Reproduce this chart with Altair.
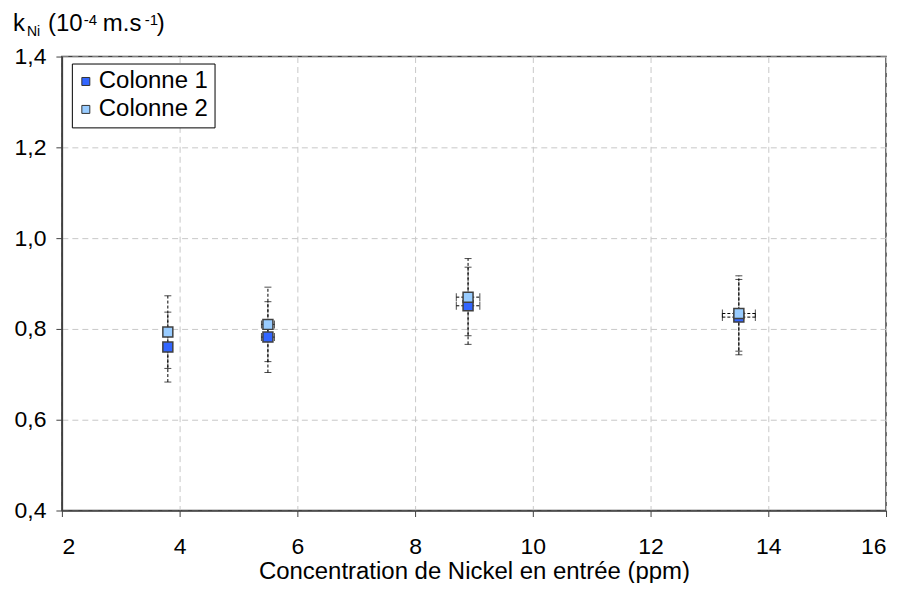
import altair as alt
import pandas as pd

# ---- data ----
series = ["Colonne 1", "Colonne 2"]
conc = [3.8, 5.5, 8.9, 13.5]
k_col1 = [0.760, 0.782, 0.851, 0.826]
k_col2 = [0.793, 0.810, 0.870, 0.834]
err_col1 = [0.077, 0.078, 0.085, 0.083]
err_col2 = [0.080, 0.082, 0.085, 0.083]
xerr = [0.05, 0.11, 0.20, 0.28]
x_ticks = [2, 4, 6, 8, 10, 12, 14, 16]
y_ticks = [0.4, 0.6, 0.8, 1.0, 1.2, 1.4]
colors = ["#3366FF", "#99CCFF"]

rows = []
for s, ks, es in [(series[0], k_col1, err_col1), (series[1], k_col2, err_col2)]:
    for c, k, e, xe in zip(conc, ks, es, xerr):
        rows.append({"serie": s, "conc": c, "k": k, "klo": k - e, "khi": k + e,
                     "clo": c - xe, "chi": c + xe})
df = pd.DataFrame(rows)

FONT = "Liberation Sans"
xs = alt.Scale(domain=[2, 16], nice=False, zero=False)
ys = alt.Scale(domain=[0.4, 1.4], nice=False, zero=False)

base = alt.Chart(df)
dash = [3, 2]

vbar = base.mark_rule(color="black", strokeWidth=1, strokeDash=dash).encode(
    x=alt.X("conc:Q", scale=xs,
            axis=alt.Axis(values=x_ticks, title="Concentration de Nickel en entrée (ppm)",
                          format="d", labelPadding=19, labelFontSize=23,
                          titleY=68, titleBaseline="alphabetic", titleFontSize=24,
                          grid=True)),
    y=alt.Y("klo:Q", scale=ys,
            axis=alt.Axis(values=y_ticks, title=None, grid=True, labelPadding=10,
                          labelExpr="replace(format(datum.value, '.1f'), '.', ',')")),
    y2="khi:Q",
)
capt = base.mark_tick(color="black", thickness=1, size=7, orient="horizontal", strokeDash=[2, 1]).encode(
    x="conc:Q", y="khi:Q")
capb = base.mark_tick(color="black", thickness=1, size=7, orient="horizontal", strokeDash=[2, 1]).encode(
    x="conc:Q", y="klo:Q")
hbar = base.mark_rule(color="black", strokeWidth=1, strokeDash=dash).encode(
    x="clo:Q", x2="chi:Q", y="k:Q")
capl = base.mark_tick(color="black", thickness=1, size=8, orient="vertical", strokeDash=[2, 1]).encode(
    x="clo:Q", y="k:Q")
capr = base.mark_tick(color="black", thickness=1, size=8, orient="vertical", strokeDash=[2, 1]).encode(
    x="chi:Q", y="k:Q")

pts = base.mark_square(size=100, stroke="#404040", strokeWidth=1.5, opacity=1).encode(
    x="conc:Q", y="k:Q",
    color=alt.Color("serie:N", scale=alt.Scale(domain=series, range=colors),
                    legend=alt.Legend(title=None, orient="none", legendX=10, legendY=7,
                                      strokeColor="black", fillColor="white",
                                      padding=6, labelFontSize=24, labelFont=FONT,
                                      labelColor="black", symbolType="square",
                                      symbolSize=64, symbolStrokeColor="#333333",
                                      symbolStrokeWidth=1, symbolOpacity=1,
                                      symbolOffset=-4,
                                      rowPadding=4, labelOffset=1)),
    order=alt.Order("serie:N"),
)

def txt(s, x, y, size):
    return alt.Chart(pd.DataFrame({"t": [s]})).mark_text(
        align="left", baseline="alphabetic", font=FONT, fontSize=size, color="black"
    ).encode(text="t:N", x=alt.value(x), y=alt.value(y))

title_parts = [
    txt("k", -49, -26, 24),
    txt("Ni", -35, -21, 14),
    txt("(10", -14, -26, 24),
    txt("-4", 22, -32, 15),
    txt("m.s", 41, -26, 24),
    txt("-1", 83, -32, 15),
    txt(")", 95, -26, 24),
]

chart = alt.layer(vbar, hbar, capt, capb, capl, capr, pts, *title_parts).properties(
    width=826, height=455,
    autosize=alt.AutoSizeParams(type="none"),
    padding={"left": 54, "top": 48, "right": 10, "bottom": 72},
).configure_view(
    stroke="#404040", strokeWidth=1.5
).configure_axis(
    domainColor="#404040", domainWidth=1.5, tickColor="#404040", tickSize=6,
    labelFont=FONT, labelFontSize=23, labelColor="black",
    titleFont=FONT, titleFontSize=24, titleColor="black", titleFontWeight="normal",
    gridColor="#c8c8c8", gridDash=[6, 4], gridWidth=1,
)

chart.save("out.html", embed_options={"renderer": "svg", "actions": False})
